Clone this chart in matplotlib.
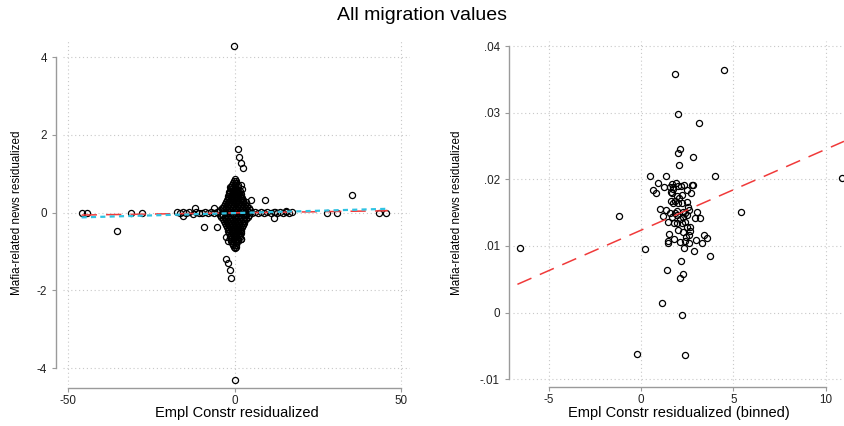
import matplotlib
matplotlib.use("Agg")
import matplotlib.pyplot as plt

plt.rcParams['font.family'] = ['Liberation Sans', 'DejaVu Sans']

# ---- left panel: all observations ----
# isolated points
out_x = [-0.2, 0.2, 0.9, 1.3, 2.0, 2.5, -2.5, -2.1, -1.5, -1.1, -35.5, 35.3,
         -46.0, -44.4, -31.2, -28.0, 27.7, 30.9, 43.4, 45.4, -12.0, -9.3, -5.3,
         5.0, 9.2, 11.7, -15.5, 15.5, 12.0, -6.2, -3.7, 1.8, 2.2, -1.5,
         -2.5, -2.1, 1.6, 1.8]
out_y = [4.28, -4.30, 1.64, 1.43, 1.28, 1.15, -1.19, -1.30, -1.47, -1.67, -0.48, 0.45,
         0.0, 0.0, 0.0, 0.0, 0.0, 0.0, 0.0, 0.0, 0.11, -0.36, -0.36,
         0.33, 0.33, -0.14, -0.08, 0.05, 0.03, 0.11, 0.13, 0.71, 0.60, 0.65,
         -0.62, -0.72, -0.45, -0.67]

# dense vertical spike around zero, one row of x values per y level
spike_levels = [0.87, 0.82, 0.77, 0.72, 0.67, 0.62, 0.57, 0.52, 0.47, 0.42, 0.37, 0.32,
                0.27, 0.22, 0.17, 0.12, 0.07,
                -0.07, -0.12, -0.17, -0.22, -0.27, -0.32, -0.37, -0.42, -0.47, -0.52,
                -0.57, -0.62, -0.67, -0.72, -0.77, -0.82, -0.87, -0.92]
spike_rows = [
    [0.0],
    [-0.3, 0.3],
    [-0.5, 0.4],
    [-0.8, 0.1, 0.9],
    [-1.0, 0.0, 1.0],
    [-1.2, -0.2, 0.8],
    [-1.4, -0.4, 0.6, 1.5],
    [-1.6, -0.6, 0.4, 1.4],
    [-1.8, -0.8, 0.2, 1.2, 1.9],
    [-1.9, -1.0, 0.0, 1.0, 2.0],
    [-2.1, -1.2, -0.2, 0.8, 1.8, 2.3],
    [-2.4, -1.4, -0.4, 0.6, 1.6, 2.5],
    [-2.6, -1.6, -0.6, 0.4, 1.4, 2.4, 3.4],
    [-2.9, -1.9, -0.9, 0.1, 1.1, 2.1, 3.0],
    [-3.2, -2.2, -1.2, -0.2, 0.8, 1.8, 2.8, 3.6],
    [-3.6, -2.6, -1.6, -0.6, 0.4, 1.4, 2.4, 3.4, 4.2],
    [-4.3, -3.3, -2.3, -1.3, -0.3, 0.7, 1.7, 2.7, 3.7, 4.7],
    [-4.5, -3.5, -2.5, -1.5, -0.5, 0.5, 1.5, 2.5, 3.5, 4.4],
    [-4.0, -3.0, -2.0, -1.0, 0.0, 1.0, 2.0, 3.0, 3.9],
    [-3.5, -2.5, -1.5, -0.5, 0.5, 1.5, 2.5, 3.4],
    [-3.2, -2.2, -1.2, -0.2, 0.8, 1.8, 2.9],
    [-2.9, -1.9, -0.9, 0.1, 1.1, 2.1, 2.8],
    [-2.6, -1.6, -0.6, 0.4, 1.4, 2.4],
    [-2.3, -1.3, -0.3, 0.7, 1.7, 2.3],
    [-2.1, -1.1, -0.1, 0.9, 1.9],
    [-1.9, -0.9, 0.1, 1.1, 2.0],
    [-1.7, -0.7, 0.3, 1.3, 1.9],
    [-1.5, -0.5, 0.5, 1.5],
    [-1.3, -0.3, 0.7, 1.6],
    [-1.1, -0.1, 0.9, 2.0],
    [-1.0, 0.0, 0.9],
    [-0.7, 0.3],
    [-0.5, 0.4],
    [-0.2, 0.3],
    [0.0],
]

# horizontal band of near-zero values
band_x = [-17.3, -16.4, -15.4, -14.5, -13.6, -12.6, -11.7, -10.8, -9.8, -8.9, -8.0, -7.0,
          -6.1, -5.2, -4.2, -3.3, -2.4, -1.4, -0.5, 0.5, 1.4, 2.4, 3.3, 4.2, 5.2, 6.1,
          7.0, 8.0, 8.9, 9.8, 10.8, 11.7, 12.6, 13.6, 14.5, 15.4, 16.4, 17.3]
band_y = [0.01, -0.02, 0.02, -0.01, 0.01, -0.03, 0.02, 0.0, -0.02, 0.03, -0.01, 0.02,
          -0.02, 0.03, -0.03, 0.02, -0.02, 0.03, -0.03, 0.03, -0.02, 0.02, -0.03, 0.03,
          -0.02, 0.02, -0.01, 0.02, -0.02, 0.01, -0.02, 0.02, -0.01, 0.01, -0.02, 0.01,
          0.0, 0.01]

# fitted lines (endpoints)
red_x = [-46.0, 46.0]
red_y = [-0.06, 0.05]
cyan_x = [-46.0, 46.0]
cyan_y = [-0.12, 0.10]

left_xticks = [-50, 0, 50]
left_yticks = [-4, -2, 0, 2, 4]

# ---- right panel: binned ----
bin_x = [-6.55, -1.17, -0.23, 0.22, 0.49, 1.37, 1.86, 2.02, 2.11, 1.99, 2.83, 2.08,
         3.12, 4.49, 4.03, 5.42, 10.87, 1.16, 2.22, 2.36, 1.41, 2.17, 2.27, 2.11,
         3.75, 2.87, 2.33, 3.30, 2.98, 3.56, 3.41, 2.58, 2.38, 2.11, 1.79, 1.48,
         1.44, 1.52, 2.00, 2.29, 2.65, 2.62, 2.47, 2.65, 2.20, 1.79, 1.93, 2.38,
         3.19, 2.94, 1.21, 1.70, 2.29, 2.47, 1.03, 1.34, 1.57, 1.84, 1.93, 2.38,
         2.58, 3.05, 1.93, 1.75, 1.84, 1.62, 1.99, 2.20, 2.47, 2.53, 1.93, 2.22,
         1.66, 1.62, 2.47, 2.71, 0.67, 0.81, 0.94, 1.26, 1.68, 1.90, 2.02, 2.17,
         2.33, 2.74, 2.80, 1.75, 1.57, 2.04, 1.48, 2.29, 2.11, 2.43, 1.75]
bin_y = [0.00965, 0.0145, -0.00625, 0.0096, 0.02055, 0.02055, 0.0358, 0.0298, 0.02455,
         0.0240, 0.02335, 0.0221, 0.0285, 0.03635, 0.02055, 0.01505, 0.02015, 0.0014,
         -0.0004, -0.00635, 0.0064, 0.0078, 0.00575, 0.0052, 0.00855, 0.0092, 0.00965,
         0.0104, 0.01095, 0.01115, 0.0117, 0.0105, 0.0108, 0.0106, 0.01105, 0.0104,
         0.0108, 0.01185, 0.0124, 0.0121, 0.0122, 0.0116, 0.0129, 0.0129, 0.0134,
         0.0134, 0.0135, 0.01365, 0.01415, 0.01425, 0.0145, 0.0143, 0.0144, 0.01465,
         0.0155, 0.0154, 0.0150, 0.0150, 0.0153, 0.0150, 0.0154, 0.01505, 0.01465,
         0.0164, 0.0168, 0.0168, 0.0165, 0.0165, 0.01665, 0.0159, 0.0175, 0.01765,
         0.0179, 0.01815, 0.0184, 0.0179, 0.0184, 0.0180, 0.0194, 0.0189, 0.01925,
         0.0194, 0.0190, 0.0190, 0.01915, 0.01915, 0.01915, 0.01855, 0.0189, 0.01715,
         0.01365, 0.01515, 0.0140, 0.0114, 0.0189]
fit_x = [-6.7, 11.0]
fit_y = [0.00425, 0.0257]

right_xticks = [-5, 0, 5, 10]
right_yticks = [-0.01, 0, 0.01, 0.02, 0.03, 0.04]
right_ylabels = ["-.01", "0", ".01", ".02", ".03", ".04"]

W, H = 844, 426
AXIS_GREY = '#9a9a9a'
RED = '#f03a3a'
CYAN = '#2fc3e3'


def style_axes(ax, xticks, yticks, left_out, bottom_out):
    for s in ['top', 'right']:
        ax.spines[s].set_visible(False)
    ax.spines['left'].set_position(('outward', left_out))
    ax.spines['bottom'].set_position(('outward', bottom_out))
    ax.spines['left'].set_bounds(min(yticks), max(yticks))
    ax.spines['bottom'].set_bounds(min(xticks), max(xticks))
    for s in ['left', 'bottom']:
        ax.spines[s].set_color(AXIS_GREY)
        ax.spines[s].set_linewidth(1.0)
    ax.set_xticks(xticks)
    ax.set_yticks(yticks)
    ax.tick_params(direction='out', length=3, width=0.8, color=AXIS_GREY,
                   labelsize=8.4, labelcolor='#222222')
    ax.tick_params(axis='y', pad=3.5)
    ax.tick_params(axis='x', pad=2)
    ax.grid(True, color='#c8c8c8', linestyle=(0, (1, 2.5)), linewidth=0.8)
    ax.set_axisbelow(True)


fig = plt.figure(figsize=(W / 100, H / 100), dpi=100)
fig.text(0.5, 1 - 15 / H, "All migration values", ha='center', va='center', fontsize=14)

# left panel
ax1 = fig.add_axes([63 / W, (H - 385) / H, 347 / W, 345 / H])
spike_x = []
spike_y = []
for lvl, row in zip(spike_levels, spike_rows):
    spike_x += row
    spike_y += [lvl] * len(row)
marker = dict(linestyle='', marker='o', mfc='none', mec='black', ms=4.4, mew=0.9)
ax1.plot(spike_x, spike_y, **marker)
ax1.plot(band_x, band_y, **marker)
ax1.plot(out_x, out_y, **marker)
ax1.plot(red_x, red_y, color=RED, lw=1.1, linestyle=(0, (10, 6)))
ax1.plot(cyan_x, cyan_y, color=CYAN, lw=1.6, linestyle=(0, (2.3, 1.9)))
ax1.set_xlim(-51.6, 52.7)
ax1.set_ylim(-4.43, 4.44)
style_axes(ax1, left_xticks, left_yticks, 5, 2)
ax1.set_xticklabels([str(v) for v in left_xticks])
ax1.set_yticklabels([str(v) for v in left_yticks])
ax1.set_xlabel("Empl Constr residualized", fontsize=10.5)
ax1.set_ylabel("Mafia-related news residualized", fontsize=8.4)
ax1.xaxis.set_label_coords(0.5, -0.061)
ax1.yaxis.set_label_coords(-0.115, 0.5)

# right panel
ax2 = fig.add_axes([513 / W, (H - 384) / H, 331 / W, 343 / H])
ax2.plot(bin_x, bin_y, **marker)
ax2.plot(fit_x, fit_y, color=RED, lw=1.1, linestyle=(0, (10, 6)))
ax2.set_xlim(-6.94, 11.0)
ax2.set_ylim(-0.0107, 0.04075)
style_axes(ax2, right_xticks, right_yticks, 3, 2)
ax2.set_xticklabels([str(v) for v in right_xticks])
ax2.set_yticklabels(right_ylabels)
ax2.set_xlabel("Empl Constr residualized (binned)", fontsize=10.5)
ax2.set_ylabel("Mafia-related news residualized", fontsize=8.4)
ax2.xaxis.set_label_coords(0.5, -0.064)
ax2.yaxis.set_label_coords(-0.151, 0.5)

fig.savefig("out.png", dpi=100)
plt.close(fig)
